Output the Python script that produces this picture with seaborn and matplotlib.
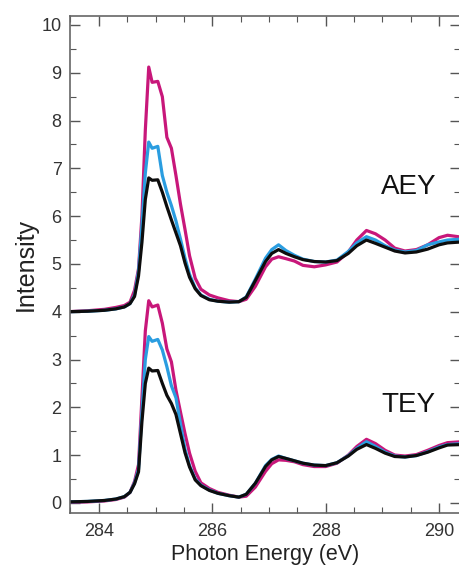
import numpy as np
import pandas as pd
import seaborn as sns
import matplotlib
matplotlib.use("Agg")
import matplotlib.pyplot as plt
from matplotlib.ticker import MultipleLocator

sns.set_theme(style="ticks")
plt.rcParams['font.family'] = ['Liberation Sans', 'DejaVu Sans']

# photon energy grid (eV)
energy = [283.45, 283.8, 284.1, 284.3, 284.45, 284.55, 284.63, 284.7, 284.76, 284.82,
          284.88, 284.94, 285.04, 285.12, 285.2, 285.28, 285.36, 285.44, 285.52, 285.6,
          285.7, 285.8, 285.95, 286.1, 286.3, 286.47, 286.6, 286.76, 286.94, 287.05,
          287.17, 287.3, 287.45, 287.6, 287.8, 288.0, 288.2, 288.4, 288.55, 288.72,
          288.88, 289.05, 289.22, 289.4, 289.6, 289.8, 290.0, 290.15, 290.4]

# AEY spectra (offset by +4)
aey_pink = [4.0, 4.02, 4.05, 4.09, 4.13, 4.2, 4.45, 4.9, 6.0, 7.8,
            9.12, 8.8, 8.82, 8.5, 7.65, 7.42, 6.85, 6.25, 5.72, 5.17,
            4.7, 4.47, 4.35, 4.29, 4.23, 4.21, 4.26, 4.53, 4.94, 5.1,
            5.15, 5.11, 5.06, 4.97, 4.94, 4.98, 5.04, 5.25, 5.5, 5.7,
            5.63, 5.5, 5.33, 5.27, 5.3, 5.4, 5.55, 5.6, 5.56]
aey_blue = [4.0, 4.01, 4.03, 4.06, 4.1, 4.17, 4.35, 4.85, 5.8, 6.9,
            7.55, 7.42, 7.46, 6.85, 6.5, 6.22, 5.9, 5.52, 5.12, 4.78,
            4.5, 4.35, 4.26, 4.22, 4.2, 4.21, 4.31, 4.68, 5.12, 5.3,
            5.4, 5.28, 5.18, 5.1, 5.05, 5.04, 5.08, 5.26, 5.44, 5.57,
            5.5, 5.38, 5.29, 5.25, 5.28, 5.4, 5.46, 5.5, 5.52]
aey_black = [4.0, 4.01, 4.03, 4.06, 4.1, 4.17, 4.32, 4.75, 5.45, 6.35,
             6.8, 6.75, 6.76, 6.5, 6.2, 5.92, 5.65, 5.38, 5.02, 4.72,
             4.48, 4.34, 4.25, 4.22, 4.2, 4.21, 4.3, 4.65, 5.05, 5.22,
             5.3, 5.22, 5.15, 5.09, 5.05, 5.04, 5.07, 5.22, 5.38, 5.5,
             5.43, 5.35, 5.27, 5.23, 5.25, 5.31, 5.4, 5.44, 5.46]

# TEY spectra
tey_pink = [0.01, 0.02, 0.04, 0.07, 0.12, 0.22, 0.45, 0.8, 2.2, 3.6,
            4.23, 4.1, 4.14, 3.76, 3.22, 2.95, 2.36, 1.9, 1.45, 1.04,
            0.66, 0.42, 0.3, 0.22, 0.16, 0.12, 0.14, 0.33, 0.66, 0.82,
            0.9, 0.89, 0.86, 0.8, 0.76, 0.76, 0.83, 1.0, 1.18, 1.33,
            1.24, 1.1, 1.0, 0.98, 1.01, 1.1, 1.2, 1.26, 1.28]
tey_blue = [0.02, 0.03, 0.05, 0.08, 0.13, 0.22, 0.42, 0.7, 1.9, 3.0,
            3.48, 3.38, 3.42, 3.2, 2.85, 2.45, 2.2, 1.65, 1.12, 0.78,
            0.5, 0.37, 0.27, 0.2, 0.15, 0.12, 0.18, 0.41, 0.78, 0.91,
            0.98, 0.93, 0.88, 0.83, 0.79, 0.78, 0.84, 0.99, 1.14, 1.28,
            1.18, 1.06, 0.98, 0.96, 0.99, 1.07, 1.17, 1.22, 1.24]
tey_black = [0.02, 0.03, 0.05, 0.08, 0.13, 0.22, 0.4, 0.65, 1.7, 2.5,
             2.82, 2.76, 2.77, 2.5, 2.25, 2.08, 1.85, 1.45, 1.05, 0.75,
             0.48, 0.36, 0.26, 0.2, 0.15, 0.12, 0.18, 0.41, 0.76, 0.9,
             0.97, 0.93, 0.88, 0.83, 0.79, 0.78, 0.84, 0.98, 1.12, 1.22,
             1.14, 1.04, 0.97, 0.96, 0.99, 1.06, 1.15, 1.21, 1.22]

samples = ['pink', 'blue', 'black']
colors = ['#c8177a', '#2a9de0', '#0d0d0d']

frames = []
for mode, curves in [('AEY', [aey_pink, aey_blue, aey_black]),
                     ('TEY', [tey_pink, tey_blue, tey_black])]:
    for name, vals in zip(samples, curves):
        frames.append(pd.DataFrame({'energy': energy, 'intensity': vals,
                                    'sample': name, 'mode': mode}))
df = pd.concat(frames, ignore_index=True)

fig, ax = plt.subplots(figsize=(4.6, 5.68), dpi=100)
fig.subplots_adjust(left=0.152, right=1.0, bottom=0.097, top=0.972)

sns.lineplot(data=df, x='energy', y='intensity', hue='sample', hue_order=samples,
             palette=colors, units='mode', estimator=None, sort=False,
             linewidth=2.3, legend=False, ax=ax)

ax.set_xlim(283.49, 290.37)
ax.set_ylim(-0.21, 10.19)
ax.xaxis.set_major_locator(MultipleLocator(2))
ax.xaxis.set_minor_locator(MultipleLocator(0.5))
ax.yaxis.set_major_locator(MultipleLocator(1))
ax.yaxis.set_minor_locator(MultipleLocator(0.5))
ax.tick_params(which='both', direction='in', top=True, right=True,
               colors='#555555', labelcolor='#333333', labelsize=13)
ax.tick_params(which='major', length=7, width=1.0)
ax.tick_params(which='minor', length=4, width=0.8)
ax.tick_params(axis='x', pad=7)
ax.tick_params(axis='y', pad=6)
for s in ax.spines.values():
    s.set_color('#666666')
    s.set_linewidth(1.2)

ax.set_xlabel('Photon Energy (eV)', fontsize=15.5, color='#222222', labelpad=3)
ax.set_ylabel('Intensity', fontsize=18, color='#222222', labelpad=3)

ax.text(288.98, 6.6, 'AEY', fontsize=20, color='#111111', ha='left', va='center')
ax.text(288.98, 2.05, 'TEY', fontsize=20, color='#111111', ha='left', va='center')

fig.savefig('out.png', dpi=100)
